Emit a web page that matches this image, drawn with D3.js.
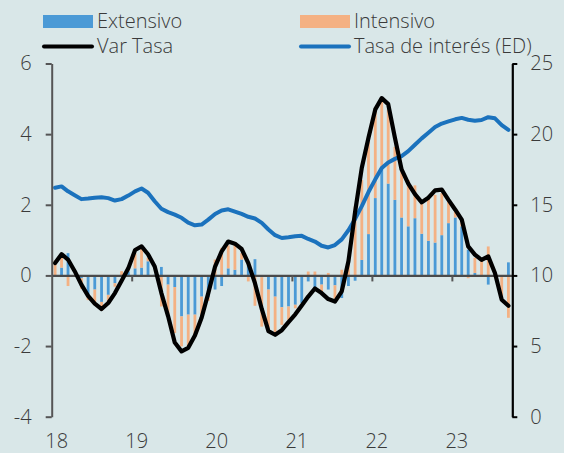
<!DOCTYPE html>
<html>
<head>
<meta charset="utf-8">
<script src="https://cdn.jsdelivr.net/npm/d3@7"></script>
<style>
  html, body { margin: 0; padding: 0; background: #d9e7e8; }
  svg { display: block; }
  svg text { font-family: "Open Sans", Lato, sans-serif; font-weight: 350; font-size: 20px; }
</style>
</head>
<body>
<svg id="chart" width="564" height="453"></svg>
<script>
// Monthly contributions (left axis, pp), Jan 2018 – Sep 2023
const yearLabels = ["18", "19", "20", "21", "22", "23"];
const leftTicks = [-4, -2, 0, 2, 4, 6];
const rightTicks = [0, 5, 10, 15, 20, 25];

const extensivo = [
  0.00, 0.22, 0.63, 0.00, -0.08, -0.55, -0.40, -0.75, -0.55, -0.22, -0.05, 0.12,
  0.20, 0.22, 0.40, 0.02, 0.24, -0.26, -0.33, -1.16, -1.11, -1.11, -0.60, -0.62,
  -0.40, -0.30, 0.20, 0.16, 0.45, 0.38, 0.46, -0.05, -0.40, -0.60, -0.90, -0.88,
  -0.83, -0.78, -0.17, -0.36, -0.26, -0.40, -0.28, -0.64, -0.30, -0.15, 0.44, 1.17,
  2.19, 3.05, 2.60, 2.14, 1.64, 1.39, 1.62, 1.18, 0.98, 0.93, 1.14, 1.48,
  1.64, 1.39, 0.73, 0.07, 0.00, -0.26, 0.02, 0.00, 0.37
];
const intensivo = [
  0.42, 0.30, -0.30, -0.03, -0.30, -0.15, -0.35, -0.25, -0.25, -0.10, 0.12, 0.15,
  0.42, 0.55, 0.10, -0.03, -0.88, -0.90, -1.30, -0.85, -0.90, -0.60, -0.55, -0.10,
  0.45, 0.78, 0.65, 0.72, 0.18, -0.17, -0.86, -1.40, -1.15, -1.00, -0.50, -0.38,
  -0.10, 0.00, 0.11, 0.11, -0.28, 0.07, -0.38, 0.16, 0.45, 1.95, 2.26, 2.63,
  2.56, 1.95, 2.10, 1.50, 1.41, 1.31, 0.93, 0.96, 1.26, 1.35, 1.19, 0.66,
  0.17, 0.11, -0.08, 0.43, 0.45, 0.82, -0.05, -0.69, -1.20
];
const varTasa = [
  0.35, 0.60, 0.45, 0.12, -0.26, -0.58, -0.80, -0.95, -0.78, -0.50, -0.15, 0.20,
  0.72, 0.82, 0.60, 0.25, -0.50, -1.15, -1.90, -2.15, -2.05, -1.70, -1.20, -0.50,
  0.25, 0.68, 0.96, 0.90, 0.75, 0.35, -0.22, -0.95, -1.58, -1.68, -1.55, -1.32,
  -1.10, -0.85, -0.60, -0.37, -0.50, -0.67, -0.74, -0.45, 0.40, 1.80, 3.05, 3.90,
  4.70, 5.02, 4.85, 3.90, 3.00, 2.60, 2.30, 2.07, 2.20, 2.41, 2.43, 2.14,
  1.86, 1.58, 0.82, 0.59, 0.44, 0.54, 0.07, -0.69, -0.86
];
// Interest rate level (right axis, %)
const tasaInteres = [
  16.20, 16.30, 15.95, 15.68, 15.40, 15.44, 15.50, 15.53, 15.47, 15.30, 15.40, 15.65,
  15.95, 16.15, 15.85, 15.25, 14.72, 14.48, 14.30, 14.08, 13.73, 13.55, 13.60, 13.95,
  14.35, 14.60, 14.68, 14.52, 14.35, 14.15, 14.03, 13.72, 13.25, 12.85, 12.65, 12.70,
  12.77, 12.80, 12.58, 12.40, 12.10, 11.98, 12.15, 12.55, 13.20, 14.00, 14.90, 15.90,
  16.80, 17.60, 18.00, 18.25, 18.45, 18.80, 19.25, 19.70, 20.10, 20.50, 20.75, 20.90,
  21.05, 21.15, 21.02, 20.95, 21.00, 21.20, 21.12, 20.64, 20.30
];

const months = d3.timeMonth.range(new Date(2018, 0, 1), new Date(2023, 9, 1));
const rows = months.map((m, i) => ({
  date: m, extensivo: extensivo[i], intensivo: intensivo[i],
  varTasa: varTasa[i], tasa: tasaInteres[i]
}));

const svg = d3.select("#chart");
const textColor = "#3a3a3a";
const axisGray = "#555555";
const colExt = "#4b9ad6";
const colInt = "#f4b183";
const colRate = "#1b72bd";

const plotTop = 63.5, plotBottom = 416.7, plotLeft = 51.7, plotRight = 512.3;

const x = d3.scaleTime()
  .domain([new Date(2018, 0, 1), new Date(2023, 9, 1)])
  .range([plotLeft, 511.7]);
const yL = d3.scaleLinear().domain([-4, 6]).range([plotBottom, plotTop]);
const yR = d3.scaleLinear().domain([0, 25]).range([plotBottom, plotTop]);
const mid = d => (x(d) + x(d3.timeMonth.offset(d, 1))) / 2;
const hyphenFmt = v => String(v);  // plain hyphen for negatives

// Stacked bars (diverging around zero)
const stack = d3.stack().keys(["extensivo", "intensivo"]).offset(d3.stackOffsetDiverging);
const series = stack(rows);
const colors = { extensivo: colExt, intensivo: colInt };
const barW = 2.8;

svg.append("g").selectAll("g").data(series).join("g")
  .attr("fill", s => colors[s.key])
  .selectAll("rect").data(s => s).join("rect")
  .attr("x", d => mid(d.data.date) - barW / 2)
  .attr("width", barW)
  .attr("y", d => yL(Math.max(d[0], d[1])))
  .attr("height", d => Math.abs(yL(d[0]) - yL(d[1])));

// Zero line with year ticks
const xZero = d3.axisBottom(x)
  .tickValues(d3.range(2019, 2024).map(y => new Date(y, 0, 1)))
  .tickSize(6).tickSizeOuter(0).tickFormat("");
const gz = svg.append("g").attr("transform", `translate(0,${yL(0)})`).call(xZero);
gz.select(".domain").attr("stroke", "#4a4a4a").attr("stroke-width", 2.2);
gz.selectAll(".tick line").attr("stroke", axisGray).attr("stroke-width", 2);

// Lines
const rateLine = d3.line().x(d => mid(d.date)).y(d => yR(d.tasa));
svg.append("path").datum(rows).attr("d", rateLine)
  .attr("fill", "none").attr("stroke", colRate).attr("stroke-width", 4)
  .attr("stroke-linejoin", "round").attr("stroke-linecap", "round");

const varLine = d3.line().x(d => mid(d.date)).y(d => yL(d.varTasa));
svg.append("path").datum(rows).attr("d", varLine)
  .attr("fill", "none").attr("stroke", "#000").attr("stroke-width", 4.2)
  .attr("stroke-linejoin", "round").attr("stroke-linecap", "round");

// Left axis
const gl = svg.append("g").attr("transform", `translate(${plotLeft},0)`)
  .call(d3.axisLeft(yL).tickValues(leftTicks).tickFormat(hyphenFmt)
    .tickSize(6).tickSizeOuter(0).tickPadding(14));
gl.attr("font-family", null).attr("font-size", null);
gl.select(".domain").attr("stroke", axisGray).attr("stroke-width", 2);
gl.selectAll(".tick line").attr("stroke", axisGray).attr("stroke-width", 2);
gl.selectAll("text").attr("fill", textColor);

// Right axis
const gr = svg.append("g").attr("transform", `translate(${plotRight},0)`)
  .call(d3.axisRight(yR).tickValues(rightTicks).tickFormat(hyphenFmt)
    .tickSize(5).tickSizeOuter(0).tickPadding(13));
gr.attr("font-family", null).attr("font-size", null);
gr.select(".domain").attr("stroke", "#000").attr("stroke-width", 2.2);
gr.selectAll(".tick line").attr("stroke", "#000").attr("stroke-width", 2);
gr.selectAll("text").attr("fill", textColor);

// Year labels along the bottom
svg.append("g").selectAll("text").data(yearLabels).join("text")
  .attr("x", (t, i) => x(new Date(2018 + i, 0, 1)) + 5)
  .attr("y", 448)
  .attr("text-anchor", "middle")
  .attr("fill", textColor)
  .text(t => t);

// Legend
const legend = svg.append("g");
const items = [
  { label: "Extensivo", type: "rect", color: colExt, x: 43, y: 21.5 },
  { label: "Intensivo", type: "rect", color: colInt, x: 300, y: 21.5 },
  { label: "Var Tasa", type: "line", color: "#000", x: 43, y: 46.5 },
  { label: "Tasa de interés (ED)", type: "line", color: colRate, x: 300, y: 46.5 }
];
items.forEach(it => {
  if (it.type === "rect") {
    legend.append("rect").attr("x", it.x).attr("y", it.y - 6.5)
      .attr("width", 50).attr("height", 13).attr("fill", it.color);
  } else {
    legend.append("line").attr("x1", it.x + 1).attr("x2", it.x + 49)
      .attr("y1", it.y).attr("y2", it.y)
      .attr("stroke", it.color).attr("stroke-width", 4).attr("stroke-linecap", "round");
  }
  legend.append("text").attr("x", it.x + 54).attr("y", it.y + 6.5)
    .attr("fill", textColor).text(it.label);
});
</script>
</body>
</html>
